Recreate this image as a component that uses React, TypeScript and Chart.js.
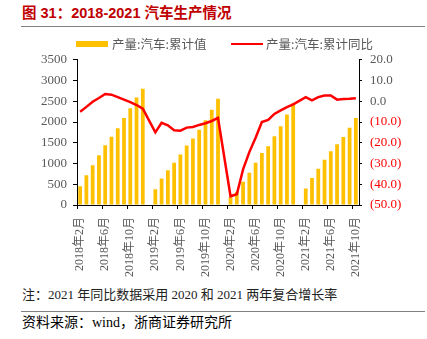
import React, { useEffect, useRef } from "react";
import { Chart, registerables } from "chart.js";

Chart.register(...registerables);

const categories = [
  "2018年2月", "2018年3月", "2018年4月", "2018年5月", "2018年6月", "2018年7月", "2018年8月", "2018年9月", "2018年10月", "2018年11月", "2018年12月",
  "2019年1月", "2019年2月", "2019年3月", "2019年4月", "2019年5月", "2019年6月", "2019年7月", "2019年8月", "2019年9月", "2019年10月", "2019年11月", "2019年12月",
  "2020年1月", "2020年2月", "2020年3月", "2020年4月", "2020年5月", "2020年6月", "2020年7月", "2020年8月", "2020年9月", "2020年10月", "2020年11月", "2020年12月",
  "2021年1月", "2021年2月", "2021年3月", "2021年4月", "2021年5月", "2021年6月", "2021年7月", "2021年8月", "2021年9月", "2021年10月",
];

// 产量:汽车:累计值 (万辆)
const production: (number | null)[] = [
  450, 720, 960, 1200, 1440, 1645, 1850, 2095, 2335, 2590, 2800,
  null, 380, 640, 840, 1016, 1216, 1432, 1600, 1816, 2045, 2296, 2560,
  null, 185, 320, 560, 776, 1016, 1256, 1416, 1656, 1900, 2184, 2450,
  null, 400, 648, 872, 1088, 1296, 1464, 1640, 1864, 2100,
];

// 产量:汽车:累计同比 (%)
const yoy: (number | null)[] = [
  -5.0, -2.7, -0.2, 1.6, 3.5, 3.2, 2.0, 0.8, -0.4, -1.8, -3.6,
  null, -15.0, -10.4, -11.6, -14.0, -14.2, -12.7, -12.4, -11.4, -10.6, -9.5, -8.0,
  null, -45.8, -44.8, -32.8, -24.5, -17.6, -10.0, -9.0, -6.1, -4.4, -2.8, -1.5,
  null, 2.0, 0.4, 2.0, 2.8, 2.8, 0.8, 1.1, 1.2, 1.5,
];

const leftTicks = { min: 0, max: 3500, step: 500 };
const rightTicks = { min: -50, max: 20, step: 10 };

const barLabel = "产量:汽车:累计值";
const lineLabel = "产量:汽车:累计同比";
const title = "图 31：2018-2021 汽车生产情况";
const note = "注：2021 年同比数据采用 2020 和 2021 两年复合增长率";
const source = "资料来源：wind，浙商证券研究所";

const ORANGE = "#FFC000";
const RED = "#FF0000";
const GRAY = "#595959";
const SERIF = "'Liberation Serif', 'Noto Sans CJK SC', serif";
const CJK = "'Noto Sans CJK SC', sans-serif";

export default function App() {
  const ref = useRef<HTMLCanvasElement | null>(null);

  useEffect(() => {
    if (!ref.current) return;
    const chart = new Chart(ref.current, {
      type: "bar",
      data: {
        labels: categories,
        datasets: [
          {
            type: "line",
            label: lineLabel,
            data: yoy,
            yAxisID: "y1",
            borderColor: RED,
            backgroundColor: RED,
            borderWidth: 2.5,
            pointRadius: 0,
            tension: 0,
            spanGaps: true,
            order: 0,
          } as any,
          {
            type: "bar",
            label: barLabel,
            data: production,
            yAxisID: "y",
            backgroundColor: ORANGE,
            barPercentage: 0.6,
            categoryPercentage: 1,
            order: 1,
          } as any,
        ],
      },
      options: {
        responsive: false,
        animation: false,
        layout: { padding: 0 },
        plugins: { legend: { display: false }, tooltip: { enabled: false } },
        scales: {
          x: {
            offset: true,
            grid: {
              offset: true,
              drawOnChartArea: false,
              drawTicks: true,
              tickLength: 4,
              tickColor: (ctx: any) => (ctx.index % 4 === 0 ? "#000" : "rgba(0,0,0,0)"),
            },
            border: { display: true, color: "#000", width: 1 },
            ticks: {
              autoSkip: false,
              minRotation: 90,
              maxRotation: 90,
              padding: 8,
              color: GRAY,
              font: { family: SERIF, size: 12 },
              callback: function (this: any, v: any, i: number) {
                return i % 4 === 0 ? this.getLabelForValue(v) : "";
              },
            },
            afterFit: (s: any) => {
              s.height = 80;
            },
          },
          y: {
            position: "left",
            min: leftTicks.min,
            max: leftTicks.max,
            ticks: {
              stepSize: leftTicks.step,
              color: GRAY,
              padding: 6,
              font: { family: SERIF, size: 13 },
              callback: (v: any) => String(v),
            },
            grid: { drawOnChartArea: false, tickLength: 4, tickColor: "#000" },
            border: { display: true, color: "#000", width: 1 },
            afterFit: (s: any) => {
              s.width = 77;
            },
          },
          y1: {
            position: "right",
            min: rightTicks.min,
            max: rightTicks.max,
            ticks: {
              stepSize: rightTicks.step,
              padding: 8,
              font: { family: SERIF, size: 13 },
              color: (ctx: any) => (ctx.tick && ctx.tick.value < 0 ? RED : GRAY),
              callback: (v: any) => {
                const n = Number(v);
                return n < 0 ? `(${(-n).toFixed(1)})` : n.toFixed(1);
              },
            },
            grid: { drawOnChartArea: false, tickLength: 3, tickColor: "#000" },
            border: { display: true, color: "#000", width: 1 },
            afterFit: (s: any) => {
              s.width = 68;
            },
          },
        },
      } as any,
    });
    return () => chart.destroy();
  }, []);

  const abs = (o: React.CSSProperties): React.CSSProperties => ({ position: "absolute", ...o });

  return (
    <div style={abs({ left: 0, top: 0, width: 427, height: 339, background: "#fff", overflow: "hidden" })}>
      <div
        style={abs({
          left: 22,
          top: 5,
          fontFamily: "'Liberation Sans', 'Noto Sans CJK SC', sans-serif",
          fontWeight: "bold",
          fontSize: 14.5,
          lineHeight: "16px",
          color: "#C00000",
          whiteSpace: "nowrap",
        })}
      >
        {title}
      </div>
      <div style={abs({ left: 21, top: 26, width: 404, height: 1, background: "#808080" })} />

      <canvas ref={ref} width={427} height={241} style={abs({ left: 0, top: 44, width: 427, height: 241 })} />

      <div style={abs({ left: 76, top: 41, width: 32, height: 6, background: ORANGE })} />
      <div
        style={abs({ left: 112, top: 36, fontFamily: CJK, fontSize: 12.5, lineHeight: "16px", color: GRAY, whiteSpace: "nowrap" })}
      >
        {barLabel}
      </div>
      <div style={abs({ left: 231, top: 43, width: 32, height: 2, background: RED })} />
      <div
        style={abs({ left: 266, top: 36, fontFamily: CJK, fontSize: 12.5, lineHeight: "16px", color: GRAY, whiteSpace: "nowrap" })}
      >
        {lineLabel}
      </div>

      <div
        style={abs({ left: 22, top: 287, fontFamily: SERIF, fontSize: 13, lineHeight: "16px", color: "#222", whiteSpace: "nowrap" })}
      >
        {note}
      </div>
      <div style={abs({ left: 21, top: 311, width: 404, height: 1, background: "#808080" })} />
      <div
        style={abs({ left: 22, top: 315, fontFamily: SERIF, fontSize: 14, lineHeight: "16px", color: "#000", whiteSpace: "nowrap" })}
      >
        {source}
      </div>
    </div>
  );
}
